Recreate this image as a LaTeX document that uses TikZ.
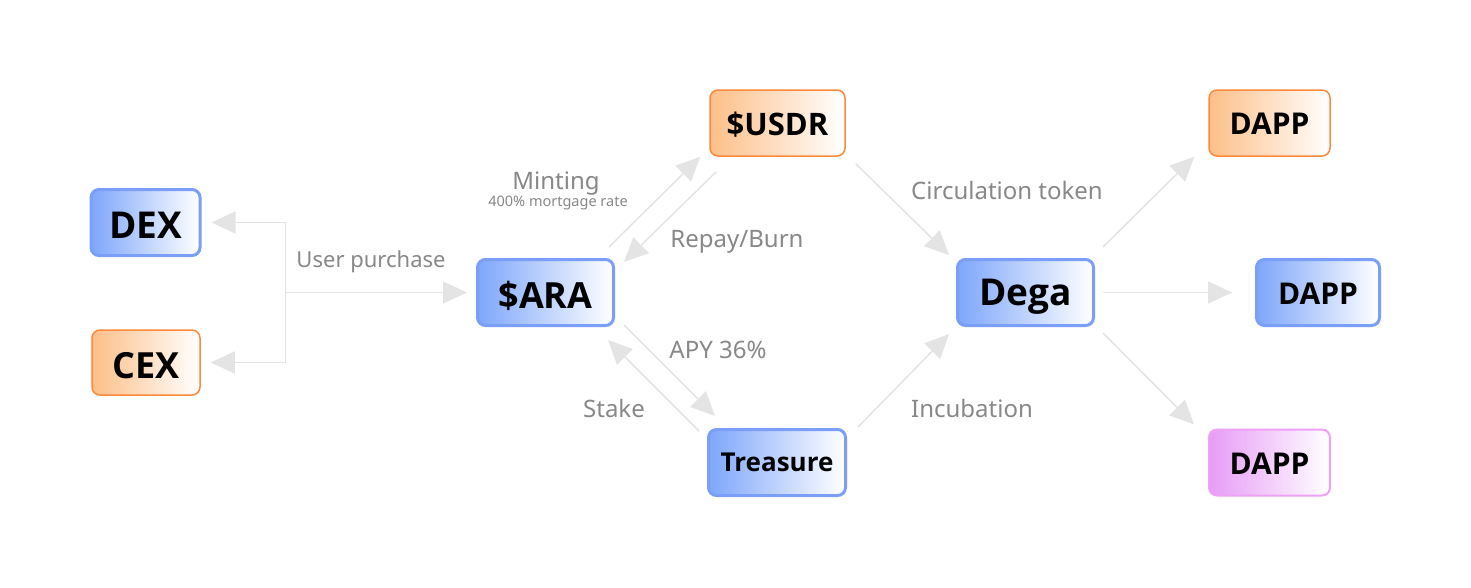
\documentclass[tikz,border=0pt]{standalone}
\usepackage{fontspec}
\setmainfont{Noto Sans}
\newfontfamily\nodefont{Open Sans}
\usetikzlibrary{arrows.meta}
\definecolor{bluebd}{HTML}{7B9EF9}
\definecolor{bluel}{HTML}{7EA6FB}
\definecolor{orbd}{HTML}{FB8A3C}
\definecolor{orl}{HTML}{FDBF88}
\definecolor{pkbd}{HTML}{EEA2F6}
\definecolor{pkl}{HTML}{E79CF6}
\definecolor{conn}{HTML}{E4E4E4}
\definecolor{lbl}{HTML}{888888}
\tikzset{
  box/.style={rectangle, rounded corners=8pt, inner sep=0pt, anchor=center, text=black, text depth=0pt},
  bluebox/.style={box, draw=bluebd, line width=3pt, left color=bluel, right color=white},
  orbox/.style={box, draw=orbd, line width=1.5pt, left color=orl, right color=white},
  pkbox/.style={box, draw=pkbd, line width=2pt, left color=pkl, right color=white},
  conline/.style={draw=conn, line width=1.5pt},
  arr/.style={conline, -{Triangle[length=24pt, width=22pt, fill=conn]}},
  lab/.style={text=lbl, inner sep=0pt, anchor=center, text depth=0pt},
  labbig/.style={lab, font=\fontsize{24}{26}\selectfont, text height=17.1pt},
}
\begin{document}
\begin{tikzpicture}[x=1pt, y=-1pt]
\useasboundingbox (0,0) rectangle (1471,587);
\fill[white] (0,0) rectangle (1471,587);

% nodes
\node[bluebox, minimum width=109pt, minimum height=66pt, font=\nodefont\bfseries\fontsize{37}{40}\selectfont, text height=31.4pt] (dex) at (145.5,222.5) {DEX};
\node[orbox, minimum width=108pt, minimum height=65pt, font=\nodefont\bfseries\fontsize{36}{40}\selectfont, text height=31.7pt] (cex) at (146,362.5) {CEX};
\node[bluebox, minimum width=136pt, minimum height=66pt, font=\nodefont\bfseries\fontsize{36}{40}\selectfont, text height=31.7pt] (ara) at (545.5,292.5) {\$ARA};
\node[orbox, minimum width=135pt, minimum height=66pt, font=\nodefont\bfseries\fontsize{31}{34}\selectfont, text height=24.1pt] (usdr) at (777.5,123) {\$USDR};
\node[bluebox, minimum width=137pt, minimum height=66pt, font=\nodefont\bfseries\fontsize{26}{30}\selectfont, text height=18.6pt] (treas) at (777,462.5) {Treasure};
\node[bluebox, minimum width=136pt, minimum height=66pt, font=\nodefont\bfseries\fontsize{37}{40}\selectfont, text height=26.4pt] (dega) at (1025.5,292.5) {Dega};
\node[orbox, minimum width=121pt, minimum height=66pt, font=\nodefont\bfseries\fontsize{30}{34}\selectfont, text height=23.4pt] (dapp1) at (1269.5,123) {DAPP};
\node[bluebox, minimum width=123pt, minimum height=66pt, font=\nodefont\bfseries\fontsize{30}{34}\selectfont, text height=23.4pt] (dapp2) at (1318,292.5) {DAPP};
\node[pkbox, minimum width=121pt, minimum height=66pt, font=\nodefont\bfseries\fontsize{30}{34}\selectfont, text height=23.4pt] (dapp3) at (1269.5,462.5) {DAPP};

% DEX / CEX bracket
\coordinate (j) at (285.5,292.5);
\draw[conline] (j |- dex.east) -- (j |- cex.east);
\draw[arr] (j) -- ([xshift=-9pt]ara.west);
\draw[arr] (j |- dex.east) -- ([xshift=10pt]dex.east);
\draw[arr] (j |- cex.east) -- ([xshift=10pt]cex.east);

% ARA <-> USDR
\draw[arr] ([shift={(-6,-11)}]ara.north east) -- ([shift={(-9,0)}]usdr.south west);
\draw[arr] ([shift={(7,15)}]usdr.south west) -- ([shift={(9,4)}]ara.north east);
% ARA <-> Treasure
\draw[arr] ([shift={(9,-2)}]ara.south east) -- ([shift={(8,-12)}]treas.north west);
\draw[arr] ([shift={(-8,3)}]treas.north west) -- ([shift={(-7,13)}]ara.south east);
% to Dega
\draw[arr] ([shift={(10,7)}]usdr.south east) -- ([shift={(-7,-3)}]dega.north west);
\draw[arr] ([shift={(11,-1)}]treas.north east) -- ([shift={(-7,7)}]dega.south west);
% Dega to DAPPs
\draw[arr] ([shift={(8,-11)}]dega.north east) -- ([shift={(-14,0)}]dapp1.south west);
\draw[arr] ([shift={(8,0)}]dega.east) -- ([shift={(-23,0)}]dapp2.west);
\draw[arr] ([shift={(8,6)}]dega.south east) -- ([shift={(-14,-4)}]dapp3.north west);

% labels
\node[lab, font=\fontsize{22}{24}\selectfont, text height=15.7pt] (lup) at (371,259.5) {User purchase};
\node[labbig] (lmint) at (556,180.5) {Minting};
\node[lab, font=\fontsize{14.5}{16}\selectfont, text height=10.4pt] (lmort) at (558,201) {400\% mortgage rate};
\node[labbig] (lrep) at (737,239) {Repay/Burn};
\node[labbig] (lapy) at (718,349.5) {APY 36\%};
\node[labbig] (lstk) at (614,409) {Stake};
\node[labbig] (lcirc) at (1007,191) {Circulation token};
\node[labbig] (linc) at (972,409) {Incubation};
\end{tikzpicture}
\end{document}
